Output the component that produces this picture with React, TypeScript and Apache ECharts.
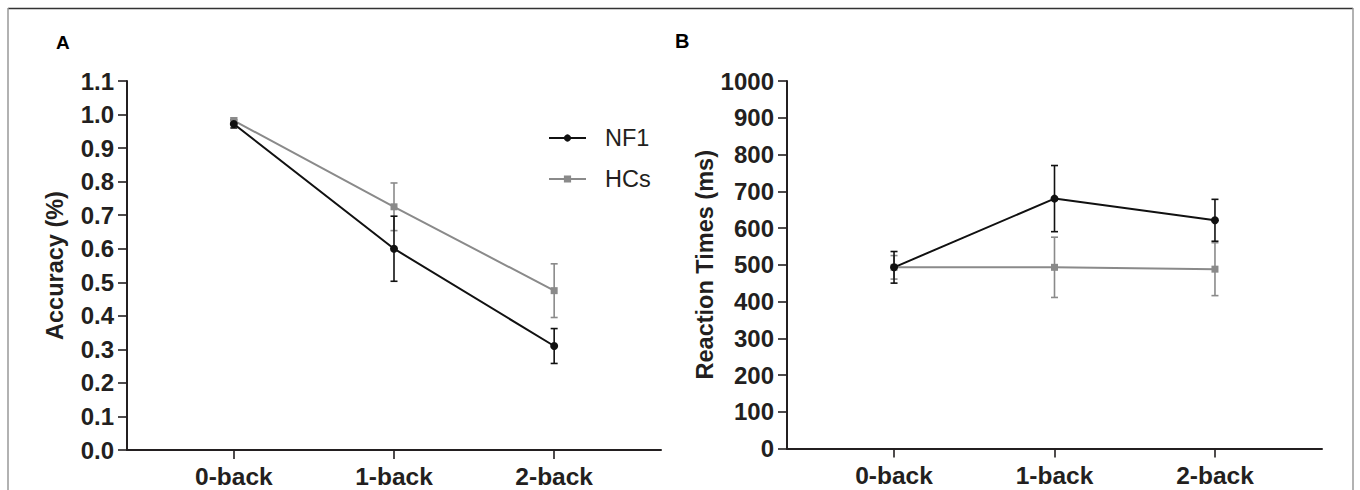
import React, { useEffect, useRef } from "react";
import * as echarts from "echarts";

const categories = ["0-back", "1-back", "2-back"];
const seriesNames = ["NF1", "HCs"];

// Panel A: Accuracy
const accNF1Mean = [0.972, 0.6, 0.31];
const accNF1Err = [0.012, 0.097, 0.052];
const accHCsMean = [0.982, 0.725, 0.475];
const accHCsErr = [0.008, 0.071, 0.08];
const accTicks = [0, 0.1, 0.2, 0.3, 0.4, 0.5, 0.6, 0.7, 0.8, 0.9, 1.0, 1.1];

// Panel B: Reaction times
const rtNF1Mean = [493, 680, 621];
const rtNF1Err = [43, 90, 57];
const rtHCsMean = [493, 493, 488];
const rtHCsErr = [32, 82, 72];
const rtTicks = [0, 100, 200, 300, 400, 500, 600, 700, 800, 900, 1000];

const BLACK = "#111111";
const GRAY = "#8a8a8a";
const TEXT = "#231f20";
const FONT = "'Liberation Sans', Arial, sans-serif";

function pts(mean: number[]) {
  return mean.map((v, i) => [i, v]);
}
function errs(mean: number[], err: number[]) {
  return mean.map((v, i) => [i, v - err[i], v + err[i]]);
}

function errRender(color: string) {
  return (params: any, api: any) => {
    const x = api.value(0);
    const lo = api.coord([x, api.value(1)]);
    const hi = api.coord([x, api.value(2)]);
    const hw = 3.5;
    const st = { stroke: color, lineWidth: 1.6 };
    return {
      type: "group",
      children: [
        { type: "line", shape: { x1: lo[0], y1: lo[1], x2: hi[0], y2: hi[1] }, style: st },
        { type: "line", shape: { x1: lo[0] - hw, y1: lo[1], x2: lo[0] + hw, y2: lo[1] }, style: st },
        { type: "line", shape: { x1: hi[0] - hw, y1: hi[1], x2: hi[0] + hw, y2: hi[1] }, style: st },
      ],
    };
  };
}

function xAxisCfg(gridIndex: number) {
  return {
    type: "value",
    gridIndex,
    min: -0.667,
    max: 2.667,
    splitLine: { show: false },
    axisLine: { show: true, onZero: false, lineStyle: { color: TEXT, width: 2 } },
    axisTick: { show: true, length: 9, customValues: [0, 1, 2], lineStyle: { color: TEXT, width: 1.6 } },
    axisLabel: {
      customValues: [0, 1, 2],
      margin: 14,
      formatter: (v: number) => categories[Math.round(v)] ?? "",
      color: TEXT,
      fontSize: 24.5,
      fontWeight: "bold",
      fontFamily: FONT,
    },
  };
}

function yAxisCfg(gridIndex: number, max: number, interval: number, name: string, nameGap: number, digits: number) {
  return {
    type: "value",
    gridIndex,
    min: 0,
    max,
    interval,
    name,
    nameLocation: "middle",
    nameRotate: 90,
    nameGap,
    nameTextStyle: { color: TEXT, fontSize: 23.5, fontWeight: "bold", fontFamily: FONT },
    splitLine: { show: false },
    axisLine: { show: true, onZero: false, lineStyle: { color: TEXT, width: 2 } },
    axisTick: { show: true, length: 9, lineStyle: { color: TEXT, width: 1.6 } },
    axisLabel: {
      margin: 13,
      color: TEXT,
      fontSize: 24,
      fontWeight: "bold",
      fontFamily: FONT,
      formatter: (v: number) => v.toFixed(digits),
    },
  };
}

export default function App() {
  const ref = useRef<HTMLDivElement>(null);
  useEffect(() => {
    if (!ref.current) return;
    const chart = echarts.init(ref.current, null, { renderer: "svg" });
    const option: any = {
      animation: false,
      backgroundColor: "#ffffff",
      textStyle: { fontFamily: FONT },
      grid: [
        { left: 127, top: 81, width: 534, height: 369 },
        { left: 787, top: 81, width: 535, height: 367.5 },
      ],
      xAxis: [xAxisCfg(0), xAxisCfg(1)],
      yAxis: [
        yAxisCfg(0, accTicks[accTicks.length - 1], 0.1, "Accuracy (%)", 60, 1),
        yAxisCfg(1, rtTicks[rtTicks.length - 1], 100, "Reaction Times (ms)", 69, 0),
      ],
      legend: {
        data: seriesNames,
        orient: "vertical",
        left: 543,
        top: 121,
        itemWidth: 37,
        itemHeight: 9,
        itemGap: 17,
        textStyle: { color: TEXT, fontSize: 23.5, fontFamily: FONT, lineHeight: 23, padding: [0, 0, 0, 14] },
      },
      graphic: [
        { type: "line", shape: { x1: 8, y1: 8.5, x2: 1353, y2: 8.5 }, style: { stroke: "#333", lineWidth: 1.5 } },
        { type: "line", shape: { x1: 8, y1: 8, x2: 8, y2: 490 }, style: { stroke: "#999", lineWidth: 1.5 } },
        { type: "line", shape: { x1: 1353, y1: 8, x2: 1353, y2: 490 }, style: { stroke: "#999", lineWidth: 1.5 } },
        { type: "text", left: 56, top: 33, style: { text: "A", fontSize: 19, fontWeight: "bold", fill: "#000", fontFamily: FONT } },
        { type: "text", left: 675, top: 31, style: { text: "B", fontSize: 20, fontWeight: "bold", fill: "#000", fontFamily: FONT } },
      ],
      series: [
        { type: "custom", xAxisIndex: 0, yAxisIndex: 0, renderItem: errRender(GRAY), data: errs(accHCsMean, accHCsErr), encode: { x: 0, y: [1, 2] }, z: 1 },
        { type: "custom", xAxisIndex: 0, yAxisIndex: 0, renderItem: errRender(BLACK), data: errs(accNF1Mean, accNF1Err), encode: { x: 0, y: [1, 2] }, z: 2 },
        { name: "HCs", type: "line", xAxisIndex: 0, yAxisIndex: 0, data: pts(accHCsMean), symbol: "rect", symbolSize: 7, lineStyle: { color: GRAY, width: 2 }, itemStyle: { color: GRAY }, z: 3 },
        { name: "NF1", type: "line", xAxisIndex: 0, yAxisIndex: 0, data: pts(accNF1Mean), symbol: "circle", symbolSize: 8, lineStyle: { color: BLACK, width: 2 }, itemStyle: { color: BLACK }, z: 4 },
        { type: "custom", xAxisIndex: 1, yAxisIndex: 1, renderItem: errRender(GRAY), data: errs(rtHCsMean, rtHCsErr), encode: { x: 0, y: [1, 2] }, z: 1 },
        { type: "custom", xAxisIndex: 1, yAxisIndex: 1, renderItem: errRender(BLACK), data: errs(rtNF1Mean, rtNF1Err), encode: { x: 0, y: [1, 2] }, z: 2 },
        { name: "HCs", type: "line", xAxisIndex: 1, yAxisIndex: 1, data: pts(rtHCsMean), symbol: "rect", symbolSize: 7, lineStyle: { color: GRAY, width: 2 }, itemStyle: { color: GRAY }, z: 3 },
        { name: "NF1", type: "line", xAxisIndex: 1, yAxisIndex: 1, data: pts(rtNF1Mean), symbol: "circle", symbolSize: 8, lineStyle: { color: BLACK, width: 2 }, itemStyle: { color: BLACK }, z: 4 },
      ],
    };
    chart.setOption(option);
    return () => chart.dispose();
  }, []);
  return (
    <div
      ref={ref}
      style={{ position: "fixed", left: 0, top: 0, width: 1360, height: 490, background: "#fff" }}
    />
  );
}
